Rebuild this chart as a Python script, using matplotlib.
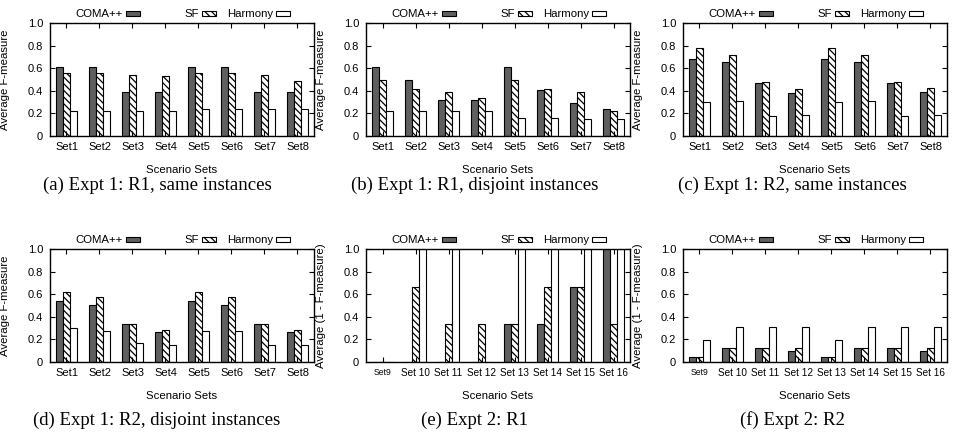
import matplotlib
matplotlib.use('Agg')
import matplotlib.pyplot as plt
from matplotlib.patches import Rectangle
import numpy as np

plt.rcParams['font.family'] = ['Liberation Sans', 'DejaVu Sans']
plt.rcParams['hatch.linewidth'] = 0.9

sets_1 = ['Set1', 'Set2', 'Set3', 'Set4', 'Set5', 'Set6', 'Set7', 'Set8']
sets_2 = ['Set9', 'Set 10', 'Set 11', 'Set 12', 'Set 13', 'Set 14', 'Set 15', 'Set 16']
methods = ['COMA++', 'SF', 'Harmony']

# (a) Expt 1: R1, same instances
coma_a = [0.61, 0.61, 0.39, 0.39, 0.61, 0.61, 0.39, 0.39]
sf_a = [0.56, 0.56, 0.54, 0.53, 0.56, 0.56, 0.54, 0.49]
harm_a = [0.225, 0.225, 0.225, 0.225, 0.235, 0.235, 0.235, 0.235]

# (b) Expt 1: R1, disjoint instances
coma_b = [0.61, 0.50, 0.32, 0.32, 0.61, 0.41, 0.29, 0.235]
sf_b = [0.50, 0.415, 0.39, 0.335, 0.50, 0.415, 0.39, 0.225]
harm_b = [0.225, 0.225, 0.225, 0.225, 0.16, 0.16, 0.148, 0.148]

# (c) Expt 1: R2, same instances
coma_c = [0.68, 0.654, 0.467, 0.38, 0.68, 0.654, 0.467, 0.388]
sf_c = [0.778, 0.719, 0.476, 0.417, 0.778, 0.719, 0.476, 0.423]
harm_c = [0.30, 0.308, 0.178, 0.183, 0.30, 0.308, 0.178, 0.183]

# (d) Expt 1: R2, disjoint instances
coma_d = [0.544, 0.503, 0.34, 0.263, 0.544, 0.503, 0.34, 0.263]
sf_d = [0.621, 0.574, 0.34, 0.281, 0.621, 0.574, 0.34, 0.281]
harm_d = [0.299, 0.278, 0.166, 0.151, 0.278, 0.272, 0.154, 0.151]

# (e) Expt 2: R1
coma_e = [0, 0, 0, 0, 0.333, 0.333, 0.667, 1.0]
sf_e = [0, 0.667, 0.333, 0.333, 0.333, 0.667, 0.667, 0.333]
harm_e = [0, 1.0, 1.0, 0, 1.0, 1.0, 1.0, 1.0]

# (f) Expt 2: R2
coma_f = [0.041, 0.127, 0.127, 0.098, 0.041, 0.127, 0.127, 0.098]
sf_f = [0.041, 0.127, 0.127, 0.127, 0.041, 0.127, 0.127, 0.127]
harm_f = [0.192, 0.314, 0.314, 0.314, 0.192, 0.314, 0.314, 0.314]

captions = ['(a) Expt 1: R1, same instances', '(b) Expt 1: R1, disjoint instances',
            '(c) Expt 1: R2, same instances', '(d) Expt 1: R2, disjoint instances',
            '(e) Expt 2: R1', '(f) Expt 2: R2']

panels = [(coma_a, sf_a, harm_a, sets_1, 'Average F-measure'),
          (coma_b, sf_b, harm_b, sets_1, 'Average F-measure'),
          (coma_c, sf_c, harm_c, sets_1, 'Average F-measure'),
          (coma_d, sf_d, harm_d, sets_1, 'Average F-measure'),
          (coma_e, sf_e, harm_e, sets_2, 'Average (1 - F-measure)'),
          (coma_f, sf_f, harm_f, sets_2, 'Average (1 - F-measure)')]

coma_color = '#5f5f5f'
hatch = '\\' * 5
styles = [dict(facecolor=coma_color, hatch=None),
          dict(facecolor='white', hatch=hatch),
          dict(facecolor='white', hatch=None)]

fig = plt.figure(figsize=(9.54, 4.33), dpi=100)
W, H = 954.0, 433.0
lefts = [50, 366, 683]
tops = [23, 249]
aw, ah = 264, 113

bw = 0.21
for i, (coma, sf, harm, labels, ylab) in enumerate(panels):
    row, col = divmod(i, 3)
    ax = fig.add_axes([lefts[col] / W, 1 - (tops[row] + ah) / H, aw / W, ah / H])
    x = np.arange(len(labels))
    for j, vals in enumerate([coma, sf, harm]):
        ax.bar(x + (j - 1) * bw, vals, bw, edgecolor='black', linewidth=0.8, **styles[j])
    ax.set_xlim(-0.5, 7.5)
    ax.set_ylim(0, 1.0)
    ax.set_yticks([0, 0.2, 0.4, 0.6, 0.8, 1.0])
    ax.set_yticklabels(['0', '0.2', '0.4', '0.6', '0.8', '1.0'])
    ax.set_xticks(x)
    ax.set_xticklabels(labels)
    ax.tick_params(direction='in', top=True, right=True, length=3.5, width=0.8, labelsize=8.0)
    ax.tick_params(axis='y', pad=5)
    ax.tick_params(axis='x', pad=4.5)
    if row == 1 and col > 0:
        ax.tick_params(axis='x', labelsize=7.2)
        ax.get_xticklabels()[0].set_fontsize(6.2)
    for s in ax.spines.values():
        s.set_linewidth(1.0)
    ax.set_ylabel(ylab, fontsize=8.2)
    ax.yaxis.set_label_coords(-0.15, 0.5)
    ax.set_xlabel('Scenario Sets', fontsize=8.2)
    ax.xaxis.set_label_coords(0.5, -0.255)

    # gnuplot-style key above the plot
    box_lefts = [0.288, 0.576, 0.856]
    for j, name in enumerate(methods):
        bl = box_lefts[j]
        ax.text(bl - 0.012, 1.084, name, transform=ax.transAxes, ha='right', va='center', fontsize=8.2)
        ax.add_patch(Rectangle((bl, 1.062), 0.053, 0.046, transform=ax.transAxes, clip_on=False,
                               edgecolor='black', linewidth=0.8, **styles[j]))

    cx = [157, 475, 792][col]
    cy = [185, 420][row]
    fig.text(cx / W, 1 - cy / H, captions[i], ha='center', va='center', fontsize=13.5,
             family=['Liberation Serif', 'DejaVu Serif'])

fig.savefig('out.png', dpi=100)
